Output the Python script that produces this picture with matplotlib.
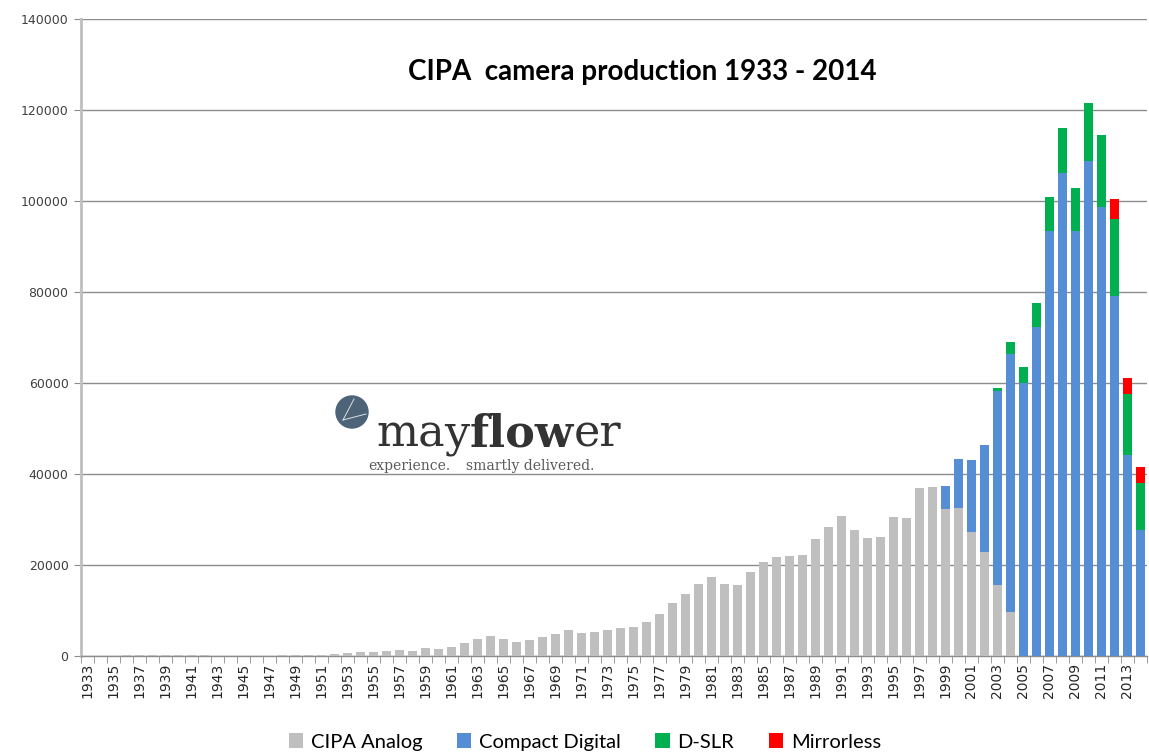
import matplotlib
matplotlib.use('Agg')
import matplotlib.pyplot as plt
from matplotlib.patches import Ellipse
import numpy as np

# Data (units: thousand cameras)
years = list(range(1933, 2015))

analog = [50, 80, 100, 180, 250, 300, 280, 250, 220, 150,
          80, 40, 20, 60, 100, 150, 120, 150, 250, 370,
          590, 880, 880, 1170, 1320, 1170, 1690, 1540, 1900, 2860,
          3660, 4470, 3660, 3080, 3590, 4100, 4760, 5710, 5130, 5280,
          5640, 6230, 6450, 7550, 9160, 11720, 13550, 15750, 17360, 15820,
          15530, 18390, 20590, 21690, 22050, 22270, 25720, 28300, 30840, 27690,
          25930, 26080, 30620, 30400, 36930, 37150, 32240, 32450, 27300, 22930,
          15530, 9600] + [0] * 10
compact = [0] * 66 + [5060, 10750, 15850, 23450, 42720, 56710, 59940, 72380,
                      93350, 106230, 93350, 108800, 98760, 79200, 44180, 27690]
dslr = [0] * 70 + [730, 2640, 3580, 5280, 7470, 9750, 9510, 12820,
                   15690, 16800, 13410, 10270]
mirrorless = [0] * 79 + [4380, 3450, 3520]

series_names = ['CIPA Analog', 'Compact Digital', 'D-SLR', 'Mirrorless']
colors = ['#BFBFBF', '#558ED5', '#00B050', '#FF0000']

fig = plt.figure(figsize=(11.49, 7.56), dpi=100)
ax = fig.add_axes([81 / 1149, 100 / 756, 1066 / 1149, 637 / 756])

x = np.arange(len(years))
bottom = np.zeros(len(years))
bars = []
for vals, name, col in zip([analog, compact, dslr, mirrorless], series_names, colors):
    b = ax.bar(x, vals, width=0.72, bottom=bottom, color=col, label=name, zorder=3)
    bars.append(b)
    bottom += np.array(vals)

ax.set_xlim(-0.5, len(years) - 0.5)
ax.set_ylim(0, 140000)
ax.set_yticks(range(0, 140001, 20000))
ax.set_yticklabels([str(v) for v in range(0, 140001, 20000)],
                   fontsize=9, color='#404040', family='DejaVu Sans')
ax.yaxis.grid(True, color='#8C8C8C', linewidth=1, zorder=0)
ax.set_axisbelow(True)

# category labels every other year, tick marks between every category
ax.set_xticks(x[::2])
ax.set_xticklabels([str(y) for y in years[::2]], rotation=90, fontsize=10,
                   color='#262626', family=['Liberation Sans Narrow', 'DejaVu Sans'])
ax.set_xticks(np.arange(-0.5, len(years), 1), minor=True)
ax.tick_params(axis='x', which='major', length=0, pad=5)
ax.tick_params(axis='x', which='minor', length=5, color='#8C8C8C', direction='out')
ax.tick_params(axis='y', length=5, color='#8C8C8C', pad=4)

for side in ['top', 'right']:
    ax.spines[side].set_visible(False)
ax.spines['left'].set_color('#BFBFBF')
ax.spines['left'].set_linewidth(2)
ax.spines['bottom'].set_color('#8C8C8C')
ax.spines['bottom'].set_linewidth(1)

fig.text(642 / 1149, 1 - 72 / 756, 'CIPA  camera production 1933 - 2014',
         ha='center', va='center', fontsize=20, fontweight='bold',
         family='Lato', color='#000000')

fig.legend(handles=bars, labels=series_names, loc='center', ncol=4,
           bbox_to_anchor=(585 / 1149, 1 - 742 / 756), frameon=False,
           prop={'family': 'Lato', 'size': 14.5}, handlelength=0.7,
           handleheight=0.7, handletextpad=0.4, columnspacing=1.7)

# mayflower watermark
cx, cy, r = 352, 412, 16
fig.add_artist(Ellipse((cx / 1149, 1 - cy / 756), 2 * r / 1149, 2 * r / 756,
                       transform=fig.transFigure, color='#4D6378', zorder=5))
for (x0, y0), (x1, y1) in [((cx - 9, cy + 8), (cx + 2, cy - 13)),
                           ((cx - 9, cy + 8), (cx + 14, cy + 2))]:
    fig.add_artist(plt.Line2D([x0 / 1149, x1 / 1149], [1 - y0 / 756, 1 - y1 / 756],
                              transform=fig.transFigure, color='white',
                              linewidth=0.7, alpha=0.8, zorder=6))

fig.canvas.draw()
renderer = fig.canvas.get_renderer()
xpos = 376
y_box = None
for part, weight in [('ma', 'normal'), ('y', 'normal'), ('flow', 'bold'), ('er', 'normal')]:
    t = fig.text(xpos / 1149, 1 - 446 / 756, part, fontsize=32, fontweight=weight,
                 family='DejaVu Serif', color='#333333', ha='left', va='baseline')
    bb = t.get_window_extent(renderer)
    if part == 'y':
        y_box = bb
    xpos = bb.x1
fig.text((y_box.x0 + 6) / 1149, 1 - 470 / 756, 'experience.', fontsize=10,
         family='DejaVu Serif', color='#5A5A5A', ha='right', va='baseline')
fig.text((y_box.x1 - 4) / 1149, 1 - 470 / 756, 'smartly delivered.', fontsize=10,
         family='DejaVu Serif', color='#5A5A5A', ha='left', va='baseline')

fig.savefig('out.png', dpi=100)
